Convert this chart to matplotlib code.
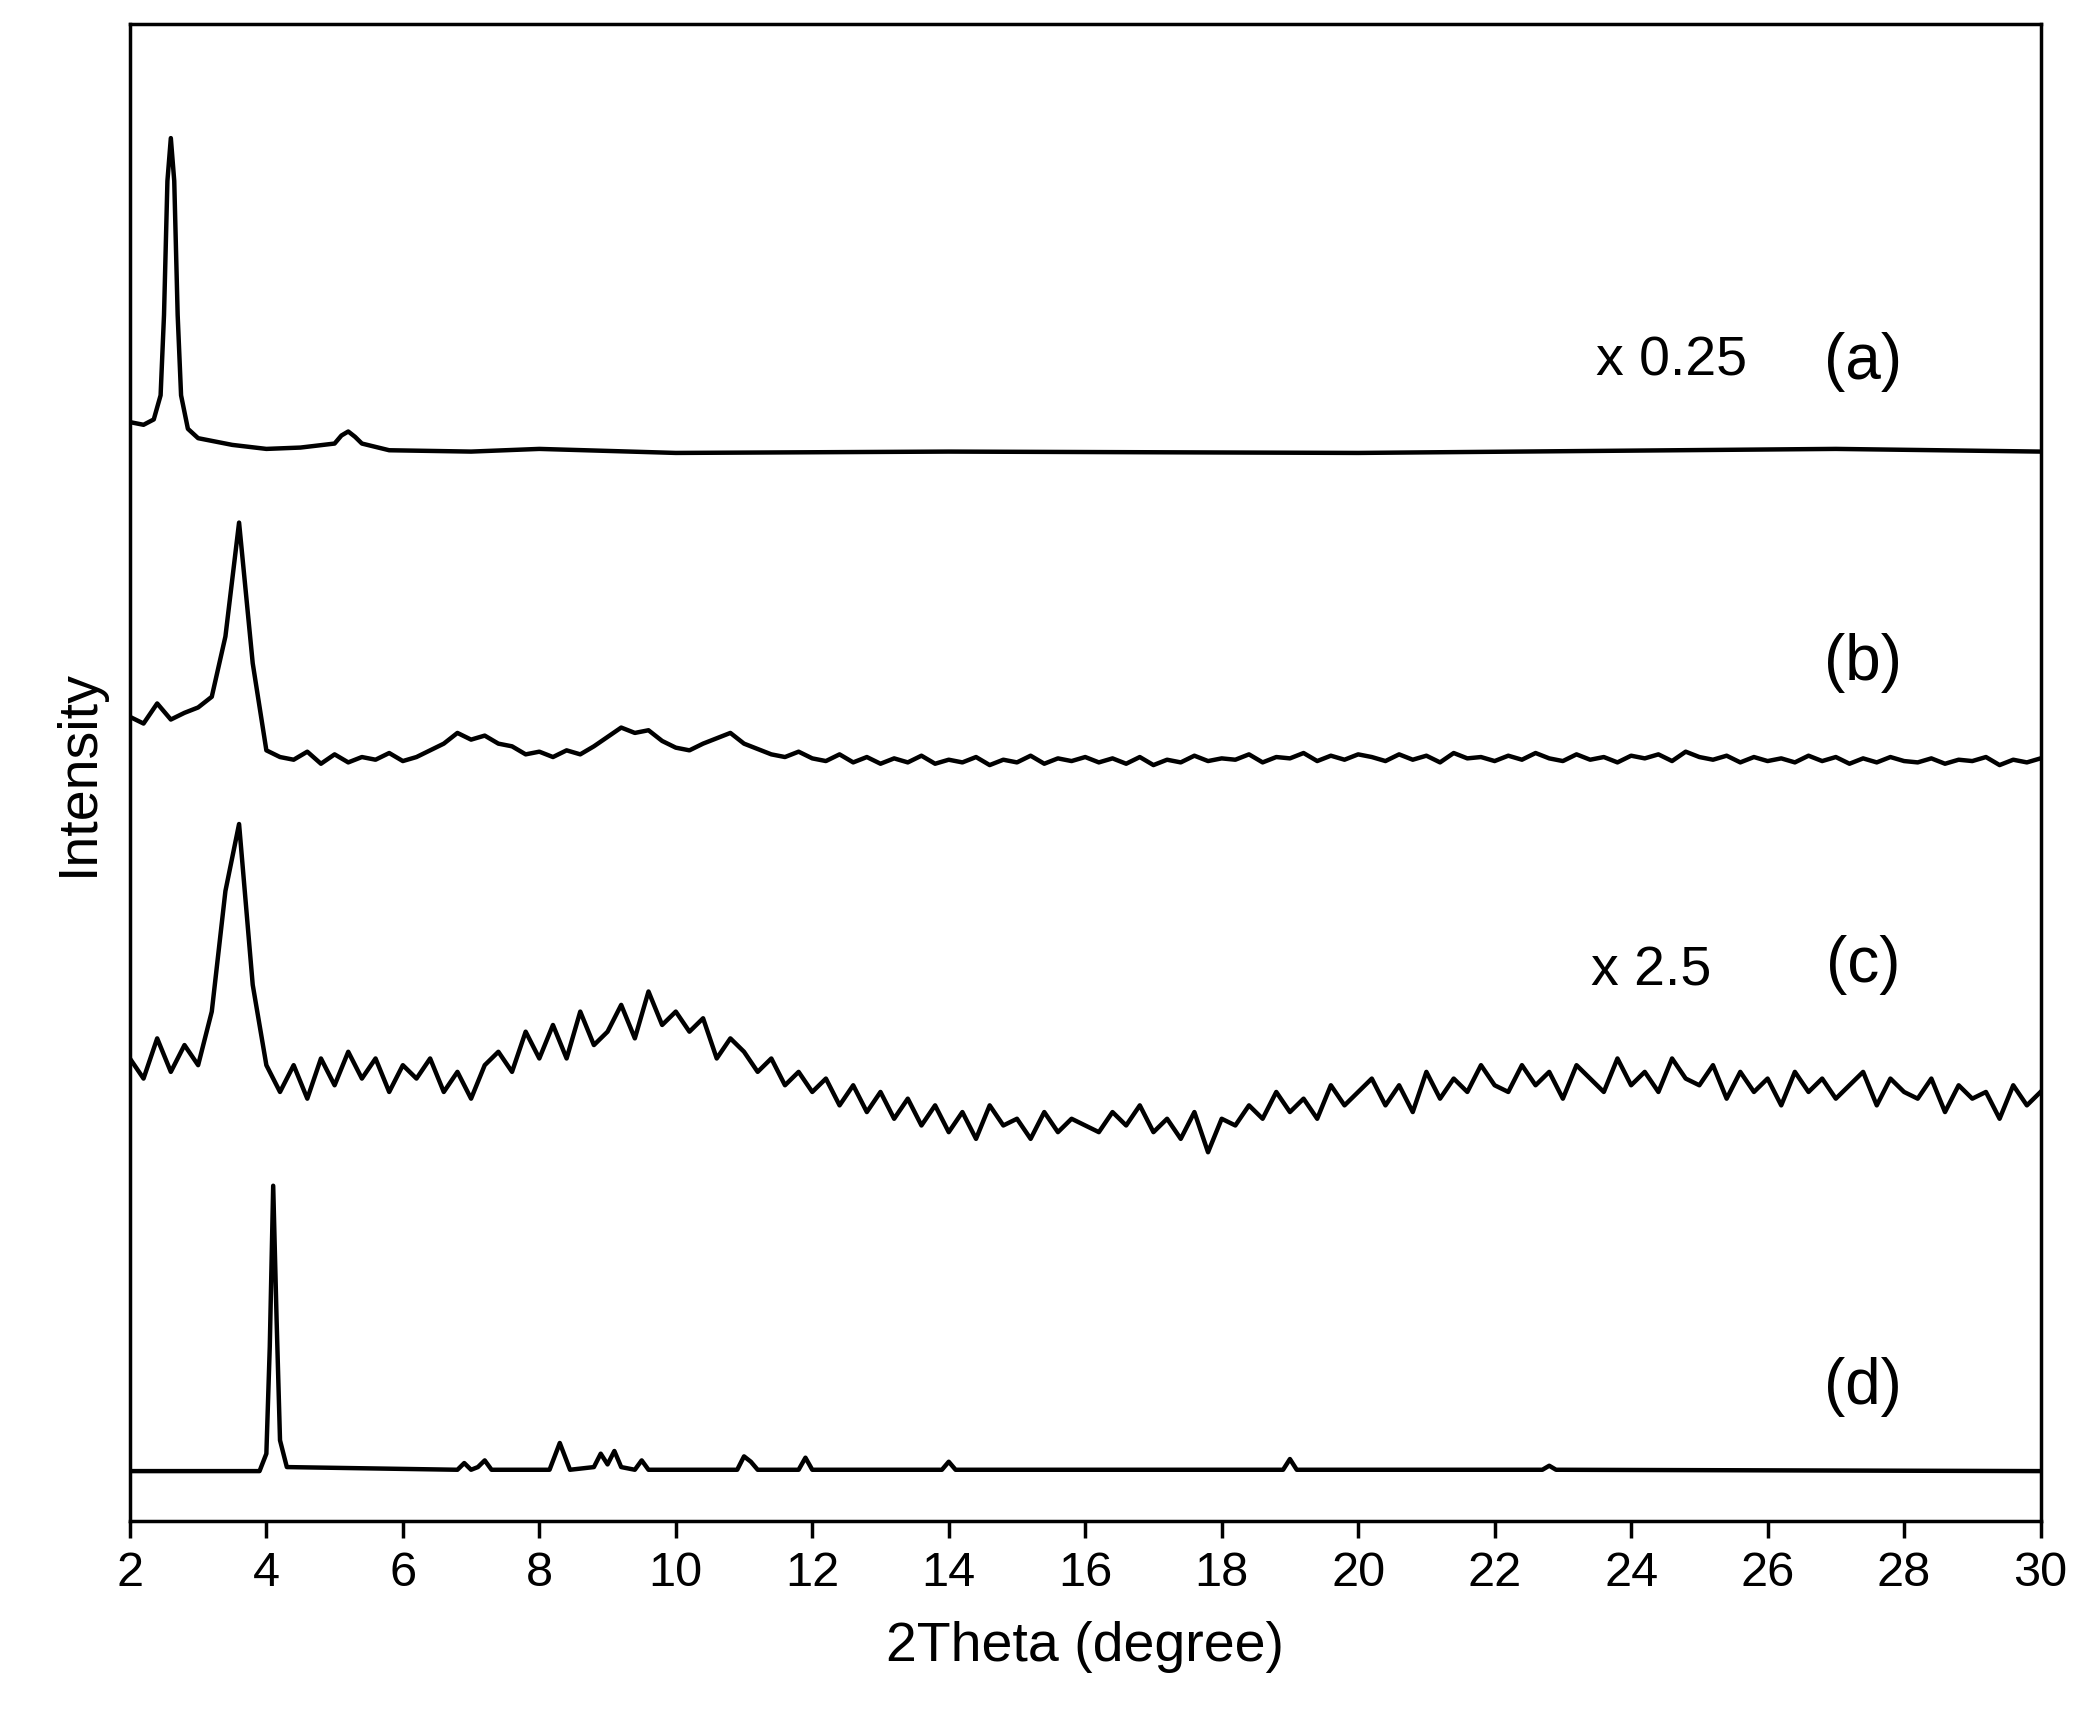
import numpy as np
import matplotlib
matplotlib.use("Agg")
import matplotlib.pyplot as plt

plt.rcParams["font.family"] = ["Liberation Sans", "DejaVu Sans"]

# (a) x0.25 pattern, hand-read points
a_x = [2.0, 2.2, 2.35, 2.45, 2.5, 2.55, 2.6, 2.65, 2.7, 2.75, 2.85, 3.0, 3.5, 4.0, 4.5,
       5.0, 5.1, 5.2, 5.3, 5.4, 5.8, 7.0, 8.0, 10.0, 14.0, 20.0, 27.0, 30.0]
a_y = [820, 818, 822, 840, 900, 1000, 1032, 1000, 900, 840, 815, 808, 803, 800, 801,
       804, 810, 813, 809, 804, 799, 798, 800, 797, 798, 797, 800, 798]

# (b) and (c) sampled every 0.2 degree from 2 to 30
grid_x = np.round(np.arange(2.0, 30.01, 0.2), 1)
b_y = [600, 595, 610, 598, 603, 607,
       615, 660, 745, 640, 575, 570,
       568, 574, 565, 572, 566, 570, 568, 573, 567,
       570, 575, 580, 588, 583, 586, 580, 578, 572, 574,
       570, 575, 572, 578, 585, 592, 588, 590, 582, 577,
       575, 580, 584, 588, 580, 576, 572, 570, 574, 569,
       567, 572, 566, 570, 565, 569, 566, 571, 565, 568,
       566, 570, 564, 568, 566, 571, 565, 569, 567, 570,
       566, 569, 565, 570, 564, 568, 566, 571, 567, 569,
       568, 572, 566, 570, 569, 573, 567, 571, 568, 572,
       570, 567, 572, 568, 571, 566, 573, 569, 570, 567,
       571, 568, 573, 569, 567, 572, 568, 570, 566, 571,
       569, 572, 567, 574, 570, 568, 571, 566, 570, 567,
       569, 566, 571, 567, 570, 565, 569, 566, 570, 567,
       566, 569, 565, 568, 567, 570, 564, 568, 566, 569]
c_y = [345, 330, 360, 335, 355, 340,
       380, 470, 520, 400, 340, 320,
       340, 315, 345, 325, 350, 330, 345, 320, 340,
       330, 345, 320, 335, 315, 340, 350, 335, 365, 345,
       370, 345, 380, 355, 365, 385, 360, 395, 370, 380,
       365, 375, 345, 360, 350, 335, 345, 325, 335, 320,
       330, 310, 325, 305, 320, 300, 315, 295, 310, 290,
       305, 285, 310, 295, 300, 285, 305, 290, 300, 295,
       290, 305, 295, 310, 290, 300, 285, 305, 275, 300,
       295, 310, 300, 320, 305, 315, 300, 325, 310, 320,
       330, 310, 325, 305, 335, 315, 330, 320, 340, 325,
       320, 340, 325, 335, 315, 340, 330, 320, 345, 325,
       335, 320, 345, 330, 325, 340, 315, 335, 320, 330,
       310, 335, 320, 330, 315, 325, 335, 310, 330, 320,
       315, 330, 305, 325, 315, 320, 300, 325, 310, 320]

# (d) pattern
d_x = [2.0, 3.9, 4.0, 4.05, 4.1, 4.15, 4.2, 4.3, 6.8, 6.9, 7.0, 7.1, 7.2, 7.3, 8.15, 8.3, 8.45,
       8.8, 8.9, 9.0, 9.1, 9.2, 9.4, 9.5, 9.6, 10.9, 11.0, 11.1, 11.2, 11.8, 11.9, 12.0,
       13.9, 14.0, 14.1, 18.9, 19.0, 19.1, 22.7, 22.8, 22.9, 30.0]
d_y = [37, 37, 50, 130, 250, 150, 60, 40, 38, 43, 38, 40, 45, 38, 38, 58, 38,
       40, 50, 42, 52, 40, 38, 45, 38, 38, 48, 44, 38, 38, 47, 38,
       38, 44, 38, 38, 46, 38, 38, 41, 38, 37]

labels = [("(a)", 27.4, 865), ("(b)", 27.4, 640), ("(c)", 27.4, 415), ("(d)", 27.4, 100)]
factors = [("x 0.25", 24.6, 865), ("x 2.5", 24.3, 410)]

fig = plt.figure(figsize=(20.95, 17.3), dpi=100)
ax = fig.add_axes([0.062, 0.121, 0.912, 0.865])
for xs, ys in [(a_x, a_y), (grid_x, b_y), (grid_x, c_y), (d_x, d_y)]:
    ax.plot(xs, ys, color="black", lw=3.2)

for txt, x, y in labels:
    ax.text(x, y, txt, fontsize=46, ha="center", va="center")
for txt, x, y in factors:
    ax.text(x, y, txt, fontsize=40, ha="center", va="center")

ax.set_xlim(2, 30)
ax.set_ylim(0, 1117)
ax.set_xticks(range(2, 31, 2))
ax.set_yticks([])
ax.tick_params(axis="x", labelsize=35, length=12, width=2.5, direction="out", pad=10)
for s in ax.spines.values():
    s.set_linewidth(2.5)
ax.set_xlabel("2Theta (degree)", fontsize=40, labelpad=18)
ax.set_ylabel("Intensity", fontsize=40, labelpad=18)

fig.savefig("out.png", dpi=100)
